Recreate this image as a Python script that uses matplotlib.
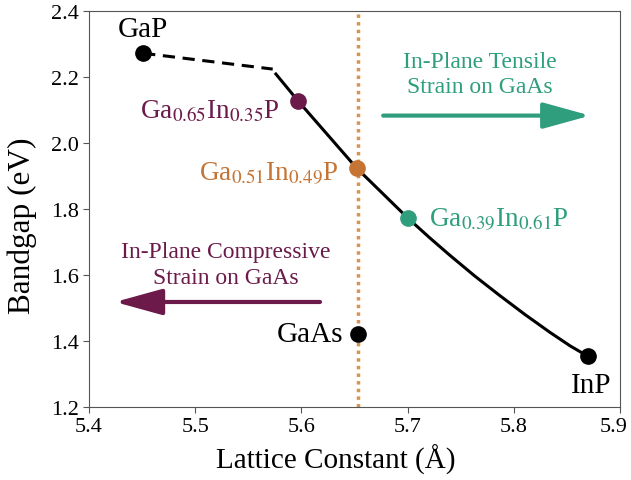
import matplotlib
matplotlib.use("Agg")
import matplotlib.pyplot as plt
import matplotlib.transforms as mtransforms

plt.rcParams['font.family'] = ['Liberation Serif', 'DejaVu Serif']
plt.rcParams['mathtext.fontset'] = 'stix'

PURPLE = "#6b1a4a"
ORANGE = "#c67433"
GREEN = "#2f9e7d"

# binary endpoints (lattice constant in A, bandgap in eV)
gap_x, gap_y = 5.451, 2.272
inp_x, inp_y = 5.870, 1.353
gaas_x, gaas_y = 5.653, 1.421

# indirect branch (dashed) from GaP to the crossover
ind_x = [5.451, 5.573]
ind_y = [2.272, 2.224]

# direct branch (solid)
dir_x = [5.576, 5.597, 5.652, 5.700, 5.721, 5.740, 5.7635, 5.787, 5.8105, 5.834, 5.853, 5.870]
dir_y = [2.209, 2.127, 1.924, 1.773, 1.712, 1.659, 1.596, 1.537, 1.480, 1.426, 1.385, 1.353]

alloy_x = [5.597, 5.652, 5.700]
alloy_y = [2.127, 1.924, 1.773]
alloy_lab = [r"Ga$_{0.65}$In$_{0.35}$P", r"Ga$_{0.51}$In$_{0.49}$P", r"Ga$_{0.39}$In$_{0.61}$P"]
alloy_col = [PURPLE, ORANGE, GREEN]

fig = plt.figure(figsize=(6.31, 4.81), dpi=100)
ax = fig.add_axes([0.141, 0.152, 0.8416, 0.823])

ax.axvline(gaas_x, color="#d9924f", lw=2.5, ls=(0, (1, 1.2)), zorder=1)

ax.plot(ind_x, ind_y, color="black", lw=2.2, ls=(0, (4, 2.5)), zorder=2)
ax.plot(dir_x, dir_y, color="black", lw=2.2, zorder=2)

ax.plot([gap_x, inp_x, gaas_x], [gap_y, inp_y, gaas_y], "o", color="black", ms=11, zorder=3)
for x, y, c in zip(alloy_x, alloy_y, alloy_col):
    ax.plot(x, y, "o", color=c, ms=11, zorder=3)

ax.text(gap_x, 2.323, "GaP", fontsize=21, ha="center", va="baseline")
ax.text(5.873, 1.245, "InP", fontsize=21, ha="center", va="baseline")
ax.text(5.6395, 1.401, "GaAs", fontsize=21, ha="right", va="baseline")

ax.text(5.580, 2.079, alloy_lab[0], color=PURPLE, fontsize=19.5, ha="right", va="baseline")
ax.text(5.635, 1.891, alloy_lab[1], color=ORANGE, fontsize=19.5, ha="right", va="baseline")
ax.text(5.7205, 1.749, alloy_lab[2], color=GREEN, fontsize=19.5, ha="left", va="baseline")

arrow = "-|>,head_length=2.9,head_width=0.8"
ax.annotate("", xy=(5.872, 2.083), xytext=(5.677, 2.083),
            arrowprops=dict(arrowstyle=arrow, color=GREEN, lw=3, mutation_scale=10,
                            shrinkA=0, shrinkB=0))
ax.text(5.768, 2.209, "In-Plane Tensile\nStrain on GaAs", color=GREEN, fontsize=17,
        ha="center", va="center", linespacing=1.27)

ax.annotate("", xy=(5.4245, 1.518), xytext=(5.6175, 1.518),
            arrowprops=dict(arrowstyle=arrow, color=PURPLE, lw=3, mutation_scale=10,
                            shrinkA=0, shrinkB=0))
ax.text(5.5285, 1.632, "In-Plane Compressive\nStrain on GaAs", color=PURPLE, fontsize=17,
        ha="center", va="center", linespacing=1.27)

ax.set_xlim(5.4, 5.9)
ax.set_ylim(1.2, 2.4)
ax.set_xticks([5.4, 5.5, 5.6, 5.7, 5.8, 5.9])
ax.set_yticks([1.2, 1.4, 1.6, 1.8, 2.0, 2.2, 2.4])
ax.set_xticklabels(["5.4", "5.5", "5.6", "5.7", "5.8", "5.9"])
ax.set_yticklabels(["1.2", "1.4", "1.6", "1.8", "2.0", "2.2", "2.4"])
ax.tick_params(labelsize=16, color="#555555", length=4, pad=3)
for s in ax.spines.values():
    s.set_color("#555555")

# last x tick label sits at the figure edge; nudge it in a little
last = ax.get_xticklabels()[-1]
last.set_transform(last.get_transform() + mtransforms.ScaledTranslation(-6 / 100, 0, fig.dpi_scale_trans))

ax.set_xlabel("Lattice Constant (Å)", fontsize=21)
ax.xaxis.set_label_coords(0.465, -0.093)
ax.set_ylabel("Bandgap (eV)", fontsize=22.5)
ax.yaxis.set_label_coords(-0.098, 0.46)

fig.savefig("out.png", dpi=100)
